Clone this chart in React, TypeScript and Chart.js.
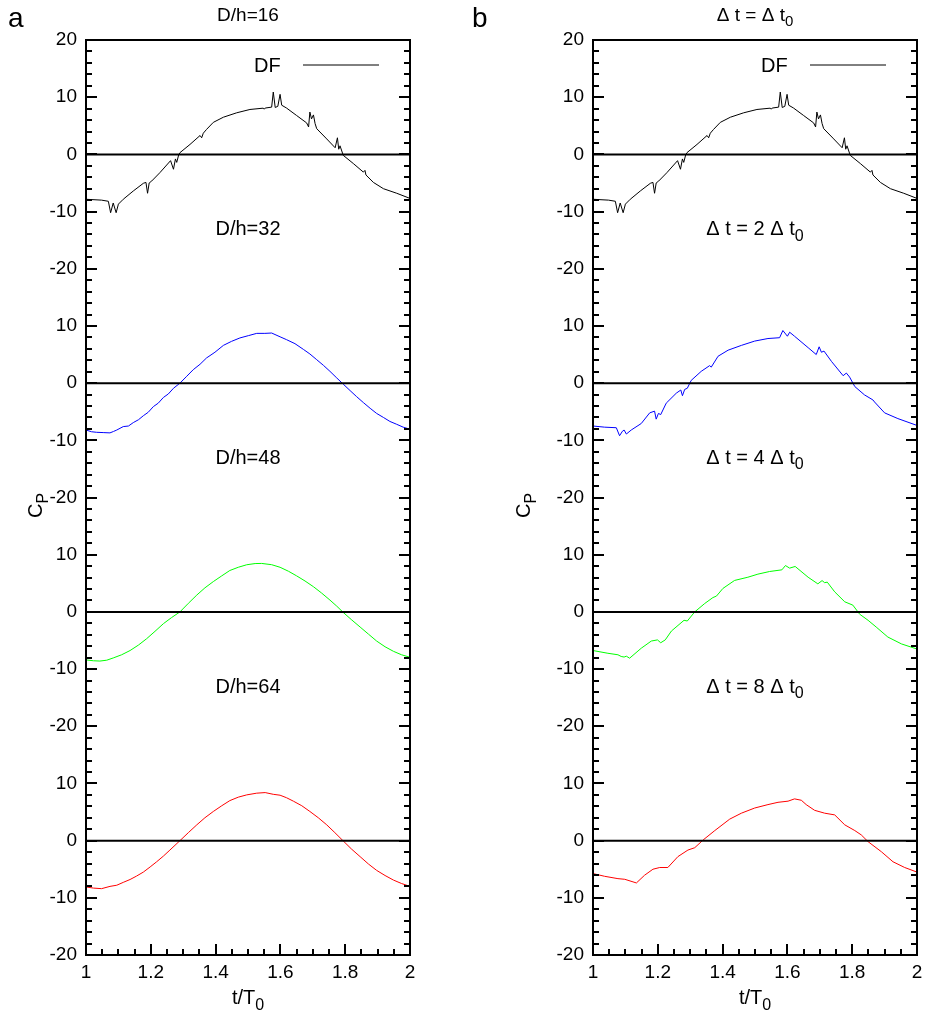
import { useEffect, useRef } from "react";
import { Chart, registerables } from "chart.js";

Chart.register(...registerables);

const FONT = '"Liberation Sans", Arial, Helvetica, sans-serif';

// Stacked C_P axis: one linear scale, every curve shifted down by 40 units
const yMin = -140;
const yMax = 20;
const yTickLabels = ["20", "10", "0", "-10", "-20", "10", "0", "-10", "-20", "10", "0", "-10", "-20", "10", "0", "-10", "-20"];
const xTickValues = [1, 1.2, 1.4, 1.6, 1.8, 2];
const xTickLabels = ["1", "1.2", "1.4", "1.6", "1.8", "2"];
const stackOffsets = [0, -40, -80, -120];
const curveColors = ["#000000", "#0000ff", "#00ff00", "#ff0000"];
// caption anchors (in stacked C_P units) for the 2nd..4th curves
const captionValues = [-12.9, -52.9, -92.9];

// DF reference solution (D/h=16, Δt = Δt0)
const cpDF: [number, number][] = [
  [1.000, -7.85], [1.048, -8.0], [1.069, -8.2], [1.076, -10.2], [1.084, -8.5], [1.093, -10.2], [1.100, -8.7],
  [1.115, -7.85], [1.146, -6.4], [1.177, -5.06], [1.185, -4.9], [1.190, -6.8], [1.195, -5.0], [1.203, -4.65],
  [1.228, -3.2], [1.261, -1.1], [1.270, -2.6], [1.276, -0.8], [1.280, -1.4], [1.286, -0.1], [1.290, 0.3],
  [1.321, 1.74], [1.352, 3.3], [1.357, 2.9], [1.362, 3.7], [1.372, 4.36], [1.393, 5.6], [1.424, 6.5],
  [1.465, 7.27], [1.506, 7.85], [1.547, 8.08], [1.550, 7.9], [1.553, 8.1], [1.573, 8.26], [1.578, 10.9],
  [1.584, 8.2], [1.592, 8.4], [1.599, 10.5], [1.604, 8.6], [1.619, 8.1], [1.650, 6.8], [1.681, 5.5],
  [1.687, 4.8], [1.691, 7.4], [1.696, 6.2], [1.702, 6.9], [1.707, 5.4], [1.712, 4.5], [1.743, 2.7],
  [1.769, 1.16], [1.776, 2.9], [1.780, 0.9], [1.784, 1.5], [1.794, -0.17], [1.825, -1.6], [1.856, -3.1],
  [1.861, -2.8], [1.864, -3.6], [1.887, -4.9], [1.918, -6.0], [1.959, -6.8], [2.000, -7.7],
];

// D/h = 32
const cpD32: [number, number][] = [
  [1.000, -8.2], [1.017, -8.5], [1.033, -8.6], [1.053, -8.65], [1.074, -8.7], [1.085, -8.45], [1.095, -8.2],
  [1.115, -7.6], [1.131, -7.5], [1.146, -6.9], [1.162, -6.4], [1.177, -5.7], [1.192, -5.1], [1.208, -4.1],
  [1.223, -3.5], [1.239, -2.5], [1.254, -1.9], [1.270, -0.9], [1.290, 0.0], [1.311, 1.2], [1.331, 2.35],
  [1.352, 3.3], [1.372, 4.4], [1.398, 5.4], [1.424, 6.6], [1.449, 7.3], [1.475, 7.9], [1.501, 8.3],
  [1.527, 8.7], [1.552, 8.7], [1.573, 8.76], [1.599, 8.1], [1.619, 7.6], [1.645, 6.9], [1.671, 5.9],
  [1.691, 5.1], [1.712, 4.1], [1.733, 3.1], [1.753, 2.06], [1.774, 0.9], [1.794, -0.18], [1.815, -1.3],
  [1.835, -2.35], [1.856, -3.4], [1.877, -4.4], [1.897, -5.3], [1.918, -6.0], [1.938, -6.7], [1.959, -7.2],
  [1.979, -7.7], [2.000, -8.06],
];

// D/h = 48
const cpD48: [number, number][] = [
  [1.000, -8.4], [1.023, -8.55], [1.043, -8.6], [1.064, -8.45], [1.084, -8.06], [1.110, -7.5], [1.136, -6.76],
  [1.162, -5.8], [1.187, -4.7], [1.213, -3.4], [1.239, -2.06], [1.264, -1.0], [1.290, 0.0], [1.316, 1.5],
  [1.342, 2.94], [1.367, 4.2], [1.393, 5.3], [1.419, 6.3], [1.444, 7.24], [1.470, 7.8], [1.496, 8.24],
  [1.522, 8.45], [1.542, 8.47], [1.573, 8.25], [1.599, 7.8], [1.625, 7.1], [1.650, 6.3], [1.676, 5.4],
  [1.702, 4.4], [1.727, 3.3], [1.753, 2.06], [1.774, 1.0], [1.794, -0.1], [1.820, -1.4], [1.846, -2.65],
  [1.872, -3.9], [1.897, -5.1], [1.923, -6.1], [1.949, -6.9], [1.974, -7.5], [2.000, -7.94],
];

// D/h = 64
const cpD64: [number, number][] = [
  [1.000, -8.1], [1.023, -8.3], [1.048, -8.4], [1.074, -8.0], [1.095, -7.8], [1.115, -7.3], [1.136, -6.8],
  [1.156, -6.2], [1.177, -5.5], [1.198, -4.6], [1.218, -3.7], [1.239, -2.7], [1.259, -1.65], [1.290, 0.0],
  [1.316, 1.4], [1.342, 2.76], [1.367, 4.0], [1.393, 5.1], [1.419, 6.1], [1.444, 7.0], [1.470, 7.6],
  [1.496, 8.0], [1.527, 8.3], [1.553, 8.4], [1.578, 8.1], [1.599, 7.94], [1.619, 7.5], [1.640, 6.9],
  [1.666, 6.1], [1.691, 5.1], [1.717, 4.0], [1.743, 2.76], [1.768, 1.4], [1.794, -0.06], [1.820, -1.5],
  [1.846, -2.8], [1.872, -4.1], [1.897, -5.2], [1.923, -6.1], [1.949, -6.9], [1.974, -7.5], [2.000, -8.0],
];

// Δt = 2 Δt0
const cpDt2: [number, number][] = [
  [1.000, -7.5], [1.036, -7.7], [1.072, -7.8], [1.082, -9.2], [1.091, -8.4], [1.096, -8.2], [1.103, -8.9],
  [1.118, -8.2], [1.149, -7.06], [1.175, -5.2], [1.190, -4.9], [1.195, -6.3], [1.202, -5.3], [1.209, -5.5],
  [1.226, -3.5], [1.257, -1.76], [1.271, -1.2], [1.276, -2.2], [1.283, -1.1], [1.291, -0.9], [1.303, 0.47],
  [1.334, 2.06], [1.360, 3.06], [1.365, 2.8], [1.386, 4.7], [1.417, 5.76], [1.458, 6.6], [1.499, 7.35],
  [1.540, 7.8], [1.576, 7.94], [1.586, 9.2], [1.600, 8.2], [1.607, 8.9], [1.622, 8.2], [1.664, 6.2],
  [1.689, 5.0], [1.698, 6.35], [1.705, 5.4], [1.713, 5.6], [1.736, 3.8], [1.772, 1.3], [1.782, 1.76],
  [1.792, 1.06], [1.808, -0.6], [1.838, -2.06], [1.864, -2.94], [1.869, -3.3], [1.900, -5.2], [1.941, -6.2],
  [2.000, -7.4],
];

// Δt = 4 Δt0
const cpDt4: [number, number][] = [
  [1.000, -6.76], [1.046, -7.24], [1.077, -7.5], [1.087, -7.8], [1.096, -7.9], [1.103, -7.75], [1.113, -8.1],
  [1.149, -6.35], [1.180, -5.1], [1.199, -4.9], [1.209, -5.4], [1.223, -4.9], [1.242, -3.35], [1.281, -1.47],
  [1.291, -1.6], [1.314, 0.0], [1.345, 1.47], [1.370, 2.5], [1.381, 2.76], [1.401, 4.1], [1.437, 5.5],
  [1.478, 6.06], [1.509, 6.6], [1.545, 7.06], [1.583, 7.35], [1.594, 8.1], [1.607, 7.65], [1.624, 7.94],
  [1.664, 6.06], [1.694, 4.9], [1.707, 5.47], [1.715, 5.1], [1.723, 5.2], [1.746, 3.5], [1.777, 1.76],
  [1.802, 1.18], [1.823, -0.4], [1.849, -1.47], [1.874, -2.65], [1.910, -4.4], [1.952, -5.6], [2.000, -6.5],
];

// Δt = 8 Δt0
const cpDt8: [number, number][] = [
  [1.000, -5.76], [1.036, -6.24], [1.077, -6.65], [1.098, -6.76], [1.134, -7.4], [1.159, -6.06], [1.185, -5.0],
  [1.206, -4.7], [1.231, -4.7], [1.262, -2.8], [1.293, -1.65], [1.314, -1.24], [1.340, 0.12], [1.376, 1.76],
  [1.422, 3.76], [1.458, 4.8], [1.499, 5.7], [1.540, 6.3], [1.571, 6.7], [1.602, 6.9], [1.622, 7.3],
  [1.643, 7.06], [1.658, 6.3], [1.684, 5.3], [1.715, 4.8], [1.746, 4.5], [1.777, 2.76], [1.808, 1.76],
  [1.828, 1.0], [1.849, -0.18], [1.890, -1.94], [1.926, -3.7], [1.962, -4.7], [2.000, -5.5],
];

type Run = { text: string; sub?: boolean };

type PanelSpec = {
  letter: string;
  title: Run[];
  captions: Run[][];
  series: [number, number][][];
  left: number;
  width: number;
  axisWidth: number;
  rightPad: number;
  cpX: number;
};

const panels: PanelSpec[] = [
  {
    letter: "a",
    title: [{ text: "D/h=16" }],
    captions: [[{ text: "D/h=32" }], [{ text: "D/h=48" }], [{ text: "D/h=64" }]],
    series: [cpDF, cpD32, cpD48, cpD64],
    left: 0,
    width: 464,
    axisWidth: 86,
    rightPad: 54,
    cpX: 42,
  },
  {
    letter: "b",
    title: [{ text: "\u0394 t = \u0394 t" }, { text: "0", sub: true }],
    captions: [
      [{ text: "\u0394 t = 2 \u0394 t" }, { text: "0", sub: true }],
      [{ text: "\u0394 t = 4 \u0394 t" }, { text: "0", sub: true }],
      [{ text: "\u0394 t = 8 \u0394 t" }, { text: "0", sub: true }],
    ],
    series: [cpDF, cpDt2, cpDt4, cpDt8],
    left: 464,
    width: 465,
    axisWidth: 129,
    rightPad: 12,
    cpX: 66,
  },
];

const CANVAS_H = 1013;

// Draws text runs with subscripts; y is the baseline of the main text
function drawRuns(
  ctx: CanvasRenderingContext2D,
  runs: Run[],
  x: number,
  y: number,
  size: number,
  align: "left" | "center"
) {
  const subSize = Math.round(size * 0.78);
  const fontFor = (r: Run) => `${r.sub ? subSize : size}px ${FONT}`;
  let total = 0;
  for (const r of runs) {
    ctx.font = fontFor(r);
    total += ctx.measureText(r.text).width;
  }
  let cx = align === "center" ? x - total / 2 : x;
  ctx.textAlign = "left";
  ctx.textBaseline = "alphabetic";
  for (const r of runs) {
    ctx.font = fontFor(r);
    ctx.fillText(r.text, cx, r.sub ? y + size * 0.28 : y);
    cx += ctx.measureText(r.text).width;
  }
}

const decorPlugin = {
  id: "panelDecor",
  afterDraw(chart: any, _args: any, opts: any) {
    const spec: PanelSpec = opts.spec;
    const { ctx, chartArea: a, scales } = chart;
    const xs = scales.x;
    const ys = scales.y;
    ctx.save();
    ctx.strokeStyle = "#000";
    ctx.fillStyle = "#000";
    ctx.lineWidth = 2;

    // inward tick marks: left/right on C_P, bottom on t/T0
    ctx.beginPath();
    for (let v = ys.min; v <= ys.max + 1e-9; v += 2) {
      const p = Math.round(ys.getPixelForValue(v));
      const len = Math.abs(v % 10) < 1e-9 ? 11 : 6;
      ctx.moveTo(a.left, p);
      ctx.lineTo(a.left + len, p);
      ctx.moveTo(a.right, p);
      ctx.lineTo(a.right - len, p);
    }
    for (let i = 0; i <= 20; i++) {
      const p = Math.round(xs.getPixelForValue(xs.min + i * 0.05));
      const len = i % 4 === 0 ? 11 : 6;
      ctx.moveTo(p, a.bottom);
      ctx.lineTo(p, a.bottom - len);
    }
    ctx.stroke();
    ctx.strokeRect(a.left, a.top, a.right - a.left, a.bottom - a.top);

    const midX = (a.left + a.right) / 2;

    // panel letter
    ctx.font = `28px ${FONT}`;
    ctx.textAlign = "left";
    ctx.textBaseline = "alphabetic";
    ctx.fillText(spec.letter, 8, 27);

    // title and captions
    drawRuns(ctx, spec.title, midX, a.top - 19, 19, "center");
    spec.captions.forEach((runs, i) => {
      drawRuns(ctx, runs, midX, ys.getPixelForValue(captionValues[i]) + 7, 20, "center");
    });

    // legend entry for the DF curve
    const legendY = a.top + 25;
    ctx.font = `20px ${FONT}`;
    ctx.fillText("DF", a.left + 168, legendY + 7);
    ctx.lineWidth = 1;
    ctx.beginPath();
    ctx.moveTo(a.left + 217, legendY);
    ctx.lineTo(a.left + 293, legendY);
    ctx.stroke();

    // axis titles
    drawRuns(ctx, [{ text: "t/T" }, { text: "0", sub: true }], midX, 1004, 20, "center");
    ctx.save();
    ctx.translate(spec.cpX, (a.top + a.bottom) / 2 + 8);
    ctx.rotate(-Math.PI / 2);
    drawRuns(ctx, [{ text: "C" }, { text: "P", sub: true }], 0, 0, 20, "center");
    ctx.restore();

    ctx.restore();
  },
};

function Panel({ spec }: { spec: PanelSpec }) {
  const ref = useRef<HTMLCanvasElement | null>(null);

  useEffect(() => {
    if (!ref.current) return;
    const curveSets = spec.series.map((pts, i) => ({
      data: pts.map(([t, cp]) => ({ x: t, y: cp + stackOffsets[i] })),
      borderColor: curveColors[i],
      borderWidth: 1,
      pointRadius: 0,
      tension: 0,
      fill: false,
      order: 1,
    }));
    const zeroSets = stackOffsets.map((off) => ({
      data: [
        { x: xTickValues[0], y: off },
        { x: xTickValues[xTickValues.length - 1], y: off },
      ],
      borderColor: "#000000",
      borderWidth: 2,
      pointRadius: 0,
      fill: false,
      order: 0,
    }));

    const chart = new Chart(ref.current, {
      type: "line",
      data: { datasets: [...curveSets, ...zeroSets] as any },
      options: {
        animation: false,
        responsive: false,
        devicePixelRatio: 1,
        events: [],
        layout: { padding: { left: 0, top: 40, right: spec.rightPad, bottom: 0 } },
        plugins: {
          legend: { display: false },
          tooltip: { enabled: false },
          panelDecor: { spec },
        } as any,
        scales: {
          x: {
            type: "linear",
            min: 1,
            max: 2,
            grid: { display: false, drawTicks: false },
            border: { display: false },
            afterBuildTicks: (scale: any) => {
              scale.ticks = xTickValues.map((value) => ({ value }));
            },
            afterFit: (scale: any) => {
              scale.height = 58;
            },
            ticks: {
              autoSkip: false,
              maxRotation: 0,
              padding: 6,
              color: "#000",
              font: { family: FONT, size: 19 },
              callback: (_v: any, i: number) => xTickLabels[i],
            },
          },
          y: {
            type: "linear",
            min: yMin,
            max: yMax,
            grid: { display: false, drawTicks: false },
            border: { display: false },
            afterFit: (scale: any) => {
              scale.width = spec.axisWidth;
            },
            ticks: {
              stepSize: 10,
              autoSkip: false,
              padding: 9,
              color: "#000",
              font: { family: FONT, size: 19 },
              callback: (v: any) => yTickLabels[Math.round((yMax - Number(v)) / 10)],
            },
          },
        },
      },
      plugins: [decorPlugin],
    });
    return () => chart.destroy();
  }, [spec]);

  return (
    <canvas
      ref={ref}
      width={spec.width}
      height={CANVAS_H}
      style={{ position: "absolute", left: spec.left, top: 0, width: spec.width, height: CANVAS_H, display: "block" }}
    />
  );
}

export default function App() {
  return (
    <div
      style={{
        position: "fixed",
        left: 0,
        top: 0,
        width: 929,
        height: CANVAS_H,
        background: "#fff",
        overflow: "hidden",
      }}
    >
      {panels.map((p) => (
        <Panel key={p.letter} spec={p} />
      ))}
    </div>
  );
}
